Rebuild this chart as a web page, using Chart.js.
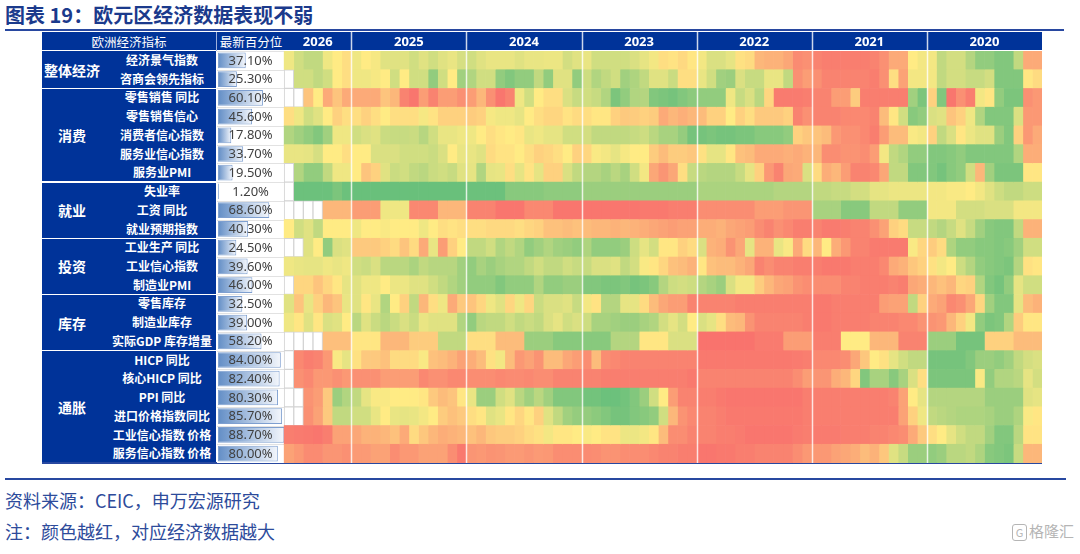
<!DOCTYPE html>
<html><head><meta charset="utf-8">
<script src="https://cdn.jsdelivr.net/npm/chart.js@4.4.1/dist/chart.umd.min.js"></script>
<style>
html,body{margin:0;padding:0;background:#fff;width:1080px;height:554px;overflow:hidden;font-family:"Noto Sans CJK SC","Noto Sans",sans-serif;}
.abs{position:absolute;}
#title{left:5px;top:1px;font-size:20px;font-weight:bold;color:#1b3a8c;white-space:nowrap;line-height:28px;}
#tline{left:5px;top:29px;width:1059px;height:2px;background:#2848a0;}
#head{left:42px;top:32px;width:1000px;height:19px;background:#003399;}
#hsep{left:42px;top:50px;width:1000px;height:1px;background:#ffffff;}
#left{left:42px;top:51px;width:174px;height:412px;background:#003399;}
.hl{color:#fff;font-size:12.5px;line-height:19px;text-align:center;white-space:nowrap;}
.grp{position:absolute;left:0;width:60px;display:flex;align-items:center;justify-content:center;color:#fff;font-weight:bold;font-size:14px;}
.ind{position:absolute;left:56px;width:128px;text-align:center;color:#fff;font-weight:bold;font-size:12px;white-space:nowrap;}
.gsep{position:absolute;left:0;width:174px;height:1.5px;background:#fff;}
#bline{left:42px;top:462px;width:1000px;height:2px;background:#2848a0;}
#fline{left:5px;top:478px;width:1061px;height:2px;background:#2848a0;}
.foot{left:5px;font-size:18px;color:#2d4b9b;white-space:nowrap;}
#wm{left:1012px;top:520px;font-size:15px;color:#b5b5b5;white-space:nowrap;}
#wm span{display:inline-block;border:1.5px solid #b5b5b5;border-radius:3px;font-size:11px;width:13px;height:15px;line-height:15px;text-align:center;margin-right:2px;vertical-align:middle;}
canvas{position:absolute;left:42px;top:32px;}
</style></head>
<body>
<div id="title" class="abs">图表 19：欧元区经济数据表现不弱</div>
<div id="tline" class="abs"></div>
<div id="head" class="abs"></div>
<div id="hsep" class="abs"></div>
<div class="abs hl" style="left:42px;top:32px;width:174px;">欧洲经济指标</div>
<div class="abs" style="left:215.5px;top:32px;width:1px;height:19px;background:#9fb0dc;"></div>
<div class="abs hl" style="left:217px;top:32px;width:68px;">最新百分位</div>
<div id="left" class="abs"></div>
<div id="bline" class="abs"></div>
<canvas id="c" width="1000" height="431" style="width:1000px;height:431px;"></canvas>
<div id="fline" class="abs"></div>
<div class="abs foot" style="top:487px;">资料来源：CEIC，申万宏源研究</div>
<div class="abs foot" style="top:518px;">注：颜色越红，对应经济数据越大</div>
<div id="wm" class="abs"><span>G</span>格隆汇</div>
<script>
// ---------------- DATA ----------------
const groupNames = ['整体经济','消费','就业','投资','库存','通胀'];
const groupSizes = [2,5,3,3,3,6];
const rowNames = ['经济景气指数','咨商会领先指标','零售销售 同比','零售销售信心','消费者信心指数','服务业信心指数','服务业PMI',
  '失业率','工资 同比','就业预期指数','工业生产 同比','工业信心指数','制造业PMI','零售库存','制造业库存','实际GDP 库存增量',
  'HICP 同比','核心HICP 同比','PPI 同比','进口价格指数同比','工业信心指数 价格','服务信心指数 价格'];
const latestPct = [37.1,25.3,60.1,45.6,17.8,33.7,19.5,1.2,68.6,40.3,24.5,39.6,46.0,32.5,39.0,58.2,84.0,82.4,80.3,85.7,88.7,80.0];
const years = ['2026','2025','2024','2023','2022','2021','2020'];
const monthsShown = [7,12,12,12,12,12,12];
// heat levels 0 (lowest, green) .. 10 (highest, red); newest month first; null = no data
const climate = [4.5,3.5,3,3,4.5,5,5.5,
 4.5,5,4.7,4,4,4,3.5,4,3.5,4,4.3,3.7,
 3.5,4,4.3,4.3,4.3,4,4.3,4.3,4.4,4.4,3.6,4,
 4.3,3.5,3.5,3.5,3.5,3.8,4.2,4.6,5.5,5.3,5.7,5.2,
 4.6,3.8,3.8,4.2,5.4,5.6,7,7.2,7.2,7.6,8.7,8.5,
 9,9.2,9.2,9.2,9.2,9.2,9,8.5,7.5,7.5,5,4.6,
 4.6,3,3.6,3.6,2.6,1.5,1.5,1,1,3,7.5,7.5];
const conference = [null,3.5,3.5,3,3.5,5,5.5,
 4.5,4.5,4.7,5,3.5,5,3.5,3.5,1.5,3.5,5,2,
 2.5,3.5,3.5,1.5,1,1.5,1.5,3,1.5,4,4,1.5,
 3.4,2.5,3,3.5,2,2.4,3,4,4,3.3,5.5,5.5,
 4.3,3.5,2,1.8,3.8,3.2,3.2,4.3,4.3,3,8.5,8,
 8.5,9,9,9,9,9,9.2,8.5,5.5,7.8,4.6,4.6,
 4.6,3,3.6,3.6,3.2,3.2,3.6,1,1,1,5.2,5.6];
const retailYoY = [null,null,6.5,5,7.5,6.5,7.5,
 7.5,7.5,7.5,6.5,7,9,9.5,8,9,8,8,8.5,
 8,7,8.5,9.5,9,4.5,3.5,5,5.5,5.5,3.8,3.2,
 3.5,3.2,2.5,0.8,1.5,2.5,2.6,1,0.8,0.6,1,1.3,
 1.5,1.5,1.5,4.5,3.2,3.8,2.8,5.8,9.3,9.3,9.3,9.2,
 9,9,8,8,6.2,9.2,9.2,9.2,9.2,9.2,2,0.8,
 6,1,9.5,8.5,9.2,4.6,5.2,1.5,0.8,0.8,8.5,8.2];
const retailConf = [5.5,4.5,3.5,4,5,6,5.5,
 5.5,6,5.5,5,5.5,5.5,5.5,4.7,5.3,6,6,6,
 6.2,6,4.7,4.5,4.5,4.2,5,5.5,5.8,5.8,5.3,5.6,
 5.5,5.2,5.2,6,6.3,6.2,6,6.2,7.5,7,7.3,7,
 6.8,6,6,5,6,5.5,6.3,6.3,6.3,6,9,8.5,
 9,9,9,8.8,8.8,8.8,9,6.8,5.2,3.5,1.2,1.5,
 3.8,4,6.5,6,4.5,2.5,1,1,1,3.8,8.2,8.2];
const consumerConf = [2.5,2,1.5,1,2,4.5,4.5,
 3.5,3.8,4,3.3,3.2,3.2,3.3,2.7,3.5,4.3,4.3,4.5,
 4.5,5,5.5,5.2,5,5.2,4.3,4.5,4.2,4.2,3.5,3.5,
 3.6,3,3,3,3,3.2,3.4,2.8,2.2,2.2,1.6,0.6,
 0.6,0.8,0.6,0.6,0.8,0.8,1.2,1.2,1.2,1.5,6,6.4,
 6.5,6.8,8.2,8.5,8.5,8.8,9.2,8,6.8,6.8,4.8,4.6,
 6,3,3.8,5.2,4.4,4,4,1.8,1,6,8.2,7.5];
const serviceConf = [4.3,4.3,4.2,3.7,5,5,5.5,
 5,5,3.8,3.8,3.8,3.5,3.5,3.5,3.3,3.8,5,4.3,
 4.3,4,5.6,5.3,5.3,5,5.5,6,5.8,5.5,5,6,
 5.8,4.8,4.6,4.2,4.7,5,5,6.2,6.8,6.2,6.2,6.4,
 5.4,4.2,4.2,5.2,6.6,6.8,7.5,7.5,7.5,7.3,7.5,7.2,
 7,8.6,8.6,8.4,8.4,8.6,8,4.6,3,2.5,1.5,1.5,
 1,1,1.2,1.5,1,1,1,1,1,2.5,7.4,7.4];
const servicePMI = [null,2.5,1.5,1.5,3,4.5,4.5,
 5,6.5,6,4,3.3,3.5,3,2.8,3.3,3.5,3.2,4,
 4.2,2.5,4.2,4.3,5.5,4.2,5.3,4.2,6,6,3.8,3,
 2.6,2.6,2.2,2.8,2.2,3.5,4.6,7.6,8.3,7.6,5.5,3.2,
 2.8,2.6,2.6,2.6,3.2,4.2,6,8.2,9,7.6,7.5,3.8,
 5.6,7.4,7,8,9,9,8.8,7.6,3,3,1,1,
 1,0.6,1.2,1.5,3.5,7,2,0.8,0.8,0.8,5.2,5.2];
const unemployment = [null,0.3,0.3,0.3,0.3,0.8,0.3,
 0.2,0.2,0.2,0.2,0.2,0.2,0.2,0.2,0.2,0.2,0.2,0.2,
 0.3,0.3,0.3,0.3,1.2,1.2,1.2,1.2,1.4,1.4,1.4,1.4,
 1.8,1.8,1.8,1.8,1.8,1.8,1.8,1.8,1.8,1.8,1.8,1.8,
 2.3,2.3,2.3,2.3,2.3,2.3,2.3,2.3,2.6,2.6,2.6,2.6,
 3,3,3.2,3.2,3.6,3.6,4.2,4.2,4.4,4.4,4.4,4.4,
 4.6,4.6,4.8,4.8,5,4.6,4,3.4,3,3,3.4,3.4];
const wagesYoY = [null,null,null,null,7,7,7,
 8,8,8,4.5,4.5,4.5,8.8,8.8,8.8,7,7,7,
 9,9,9,9.5,9.5,9.5,8.8,8.8,8.8,9.5,9.5,9.5,
 9.5,9.5,9.5,9.5,9.5,9.5,9.4,9.4,9.4,9.2,9.2,9.2,
 8.6,8.6,8.6,8.6,8.6,8.6,8,8,8,8.3,8.3,8.3,
 2.2,2.2,2.2,1.2,1.2,1.2,3,3,3,1.5,1.5,1.5,
 4.6,4.6,4.6,3.6,3.6,3.6,3.8,3.8,3.8,4.6,4.6,4.6];
const employExp = [5,3.5,4,3,5,5,5,
 4.5,5,5,4.8,5,5,5,4.5,5,5.5,5.3,5.5,
 5.5,5.5,5.7,5.7,5.7,5.5,5.8,6,6.6,6.6,6.8,6.6,
 6.8,7,7,7.2,7,7.2,7.4,7.6,7.8,8,7.8,7.8,
 7.4,7.4,7.2,7.6,7.8,8,8.6,9,8.5,8.8,9.2,9.2,
 9,9.3,9.3,9.2,9,9,8.5,7.8,6,5.6,3.2,3.2,
 3,2.6,3.2,4,3.2,2,1.2,1,1,3,7.2,7.2];
const indProdYoY = [null,null,4,5,1.5,3.8,4,
 6.3,6.3,6.3,6,5.6,6.5,5.6,7.5,4.3,8,6,5,
 3,3,3.5,2.5,3,2.5,1.5,2,2.5,2,1.8,1.5,
 2.4,1.5,1.5,1.5,1.8,3.4,4.2,3.6,5.2,5.2,6,5.6,
 3.8,7.2,7.4,8.4,7.6,4.2,7.2,7.2,4.3,4.8,7.5,5.6,
 7,5,7.4,8.2,9,9,9.3,9.3,9.3,9.3,4.8,5.8,
 6.2,5.6,2.4,1.5,1.5,1.2,1.2,1,1.2,2,3.5,3.5];
const indConf = [4.5,4.3,4.2,4.2,4.5,4.3,4.5,
 3.5,3.3,3.8,2.8,2.8,2.8,2.3,3,2.7,2.7,2.7,2,
 1.5,2.2,1.8,2.2,2.5,2.5,3,3.5,3,3,3.5,3.2,
 3.2,3.8,3.8,4,3,3.6,4.8,5.2,5.8,6.6,6.8,7.2,
 5.2,6.6,6.8,6.8,7.2,7.6,9,8.6,9,9,9.2,9.2,
 9.2,9.4,9.4,9.4,9.2,9.2,9.2,8.8,7.5,7.2,6.4,6,
 5.4,4.6,5,3.4,2.6,1.5,1.2,1,0.8,2.6,5.4,5.2];
const mfgPMI = [null,5.8,5.8,6.5,5.8,5.2,4.2,
 4,4.5,4.5,5,4.4,4.4,4,4,3.5,3,2.5,2,
 1.5,1.5,1.5,1,1.5,1.5,1.5,2.5,1.5,1.5,1.8,1.8,
 1,1,0.8,0.8,1,0.6,0.8,1.2,2.6,3.4,3.6,3.4,
 2.6,2.2,1.8,3.8,4.6,4.6,6.2,7,7.6,7.8,8.4,8.6,
 8.6,8.6,8.6,9,9,9.2,9.2,9.2,9,9.2,7.6,7.4,
 7,6.6,7,5.8,6,2.5,1,0.6,1.5,4.2,3.5,3.5];
const retailInv = [4,6.5,4.3,6,7,6.5,4.3,
 4,5.2,4.3,2.5,5,6,3,7,5.5,4.5,7.5,6.3,
 6.5,5.8,4.5,4,5.8,4.5,5.8,3.3,3.8,3.8,4,3.2,
 4.6,5.3,2.6,2.6,4.2,4.2,5.6,6.8,7.6,8,8,9,
 9,9,9,9,9.2,9.2,9.2,9.2,9.2,9.2,9.2,9.2,
 9.4,9.4,9.2,9.2,9.2,9.2,9.2,8,7.8,7.8,3,6,
 7.5,7.8,8.8,8.5,7.6,5.8,2,1,1,4.2,6.8,7.2];
const mfgInv = [4.5,5.2,4,5.2,3.8,4,5,
 2.8,4,3.3,2.8,3.3,3.8,3.3,4.3,4,4,4,2.5,
 1.5,2.8,3,3,3.5,3,3.3,3,3.8,4.2,3.5,3.8,
 3.4,2.2,2.2,2,1.8,1.8,2.2,2.5,3.6,4.2,3.6,5,
 3.8,4.2,5.5,6.8,7,8.4,9,9,9,9,9,9.2,
 9.4,9.4,9.2,9.2,9.2,9.2,9,9,9,8.8,8.8,8.4,
 8.4,8.2,7,6,4.6,1.5,0.8,1,2.5,6.2,5.2,5.2];
const gdpInventory = [null,null,null,null,6.7,6.7,6.7,
 5.2,5.2,5.2,7,7,7,6.2,6.2,6.2,3,3,3,
 5.5,5.5,5.5,6.8,6.8,6.8,1.8,1.8,1.8,1.2,1.2,1.2,
 1.2,1.2,1.2,2.6,2.6,2.6,5.2,5.2,5.2,3.8,3.8,3.8,
 9.6,9.6,9.6,9.6,9.6,9.6,9.3,9.3,9.3,8,8,8,
 9.2,9.2,9.2,5,5,5,7,7,7,9,9,9,
 1.8,1.8,1.8,0.6,0.6,0.6,6,6,6,6.8,6.8,6.8];
const hicpYoY = [null,8.8,9.2,9,8.2,4.8,4.2,
 5.4,6.3,6.3,6.6,5.6,5.6,5.6,4.8,6.6,6.8,7.2,7.8,
 7.4,6.8,5.4,4.6,6.8,8.2,7.8,8.4,6.8,6.8,7.6,8,
 8.6,6.8,8.6,8.8,9,9,9,9,9,9,9,9,
 9.4,9.4,9.4,9.4,9.4,9.4,9.4,9.4,9.4,9.4,9.3,9.2,
 8.8,8.8,8.8,8.6,7.6,6.4,5,5.4,4.2,3.5,3,3,
 0.6,0.6,0.6,0.6,1,1.8,1.8,1.5,2,3,3.6,3.8];
const coreHicpYoY = [null,8.5,8.8,8.2,8.2,8.5,8.2,
 8.5,8.5,8.5,8,8,8,8,8.8,8.5,8.5,8.8,8.8,
 8.6,8.6,8.6,8.8,8.7,8.7,8.8,8.6,8.6,9,9,9,
 9,9,9.2,9.2,9.2,9.2,9.2,9.2,9.2,9.2,9.2,9.4,
 9,9,9,9,9,9,9,9,9,9,8.6,8,
 8.3,8.3,7.4,7,5.8,1,2.2,2.2,1.2,2.2,3.8,5.5,
 0.8,0.8,0.8,0.8,0.8,4.8,1.5,2.5,2.5,2.8,4.2,3.6];
const ppiYoY = [null,null,8.4,8,6.3,1.8,2.5,
 3,4.2,4.8,4.8,5,5,5,5.2,6.3,6.8,6.5,5.2,
 4.3,1.8,1.8,3.5,4,2.8,2,2.8,2,1,1,1,
 0.5,0.5,0.3,0.3,0.5,1,1.8,3.5,5,8,9,9,
 9.2,9.2,9.4,9.5,9.5,9.5,9.5,9.5,9.5,9.5,9.5,9.2,
 9.2,9.2,9.2,9.2,9.2,9.2,9.2,9.2,9,7.8,5,4.2,
 2.6,2.6,2.6,2.6,2.6,2.6,1.8,1.8,1.8,1.8,4,4.2];
const importPriceYoY = [null,null,8.5,7.8,6.3,3,3,
 3.5,3.5,4.3,5,4.3,4.2,4.3,4.6,5,6.2,6.6,6.3,
 5.5,5.2,4,4.3,5.2,5.8,5.2,6,4,3,2,1.6,
 1.6,1.3,1,0.6,0.6,1,1.2,1.5,3.5,7,8.4,8.8,
 9,9,9.2,9.4,9.4,9.4,9.4,9.4,9.4,9.4,9.4,9.2,
 9.2,9.2,9.2,9.2,9.2,9.2,9.2,9.2,9.2,7.8,6,4.5,
 3,2.8,2.6,2.4,2.4,2.4,2.2,1.8,1.8,2.4,4.8,5.2];
const indPriceExp = [9.2,9.3,9.4,9.5,9.2,7.8,7.8,
 7.6,7.2,7.2,7,6.6,7.5,5.6,6.4,7,7.4,7.2,7,
 6.6,7,6.4,6.2,6.2,6,5.6,5.4,4.6,5.2,5.2,5,
 4.8,5,5.3,5.3,4.4,4.4,4.6,5.2,6.8,8.6,8.6,9,
 9,9,9.2,9.2,9.3,9.5,9.5,9.5,9.5,9.5,9.3,9.2,
 9.3,9.3,9.3,9.2,9.2,9.2,9,9,8.8,8.6,7.5,6.3,
 5.5,5,4.2,3.5,3,3,2,1,1,2.8,5.3,5.3];
const svcPriceExp = [7.8,8.2,8.7,8.7,8.3,8.3,8.5,
 8.1,8.1,7.8,7.8,8.6,8.2,8.2,7.8,7.8,7.8,8.6,9.4,
 8.3,8.2,8.4,8.3,8.1,8.1,8.3,8.1,8.2,8.6,8.6,8.6,
 8.7,8.6,8.4,8.4,8.6,8.6,8.6,8.8,9,9,9.2,9.2,
 9.5,9.5,9.4,9.4,9.2,9.2,9,9,9,9,8.6,8.2,
 8.2,8.2,7.8,7.6,7.4,6.8,7.2,6.4,4,3.2,1.8,1.8,
 1.5,1.8,2.8,2.8,3,2.4,1.2,1,0.8,3.2,7,7];

const heatRows = [climate,conference,retailYoY,retailConf,consumerConf,serviceConf,servicePMI,
  unemployment,wagesYoY,employExp,indProdYoY,indConf,mfgPMI,retailInv,mfgInv,gdpInventory,
  hicpYoY,coreHicpYoY,ppiYoY,importPriceYoY,indPriceExp,svcPriceExp];

// ---------------- LAYOUT / STYLE ----------------
const PCT_COL = [-7, 0];          // x-range (in month units) of the percentile column
const PCT_BAR_START = -6.9, PCT_BAR_SPAN = 7.8;
const nCols = monthsShown.reduce((a,b)=>a+b,0);

function heatColor(v){
  const lo=[99,190,123], mid=[255,235,132], hi=[248,105,107];
  let a,b,t;
  if(v<=5){a=lo;b=mid;t=v/5;} else {a=mid;b=hi;t=(v-5)/5;}
  t=Math.max(0,Math.min(1,t));
  return 'rgb('+a.map((c,i)=>Math.round(c+(b[i]-c)*t)).join(',')+')';
}
const isEmpty = v => v===null || v===undefined;

// left panel
const left = document.getElementById('left');
const rowH = 412/rowNames.length;
let start = 0;
groupNames.forEach((g,gi)=>{
  const d=document.createElement('div'); d.className='grp';
  d.style.top=(start*rowH)+'px'; d.style.height=(groupSizes[gi]*rowH)+'px'; d.textContent=g;
  left.appendChild(d);
  if(gi>0){const s=document.createElement('div'); s.className='gsep'; s.style.top=(start*rowH-0.75)+'px'; left.appendChild(s);}
  start+=groupSizes[gi];
});
rowNames.forEach((n,i)=>{
  const d=document.createElement('div'); d.className='ind';
  d.style.top=(i*rowH)+'px'; d.style.height=rowH+'px'; d.style.lineHeight=rowH+'px'; d.textContent=n;
  left.appendChild(d);
});

// datasets
const datasets=[];
for(let j=0;j<nCols;j++){
  datasets.push({
    data: rowNames.map(()=>[j,j+1]),
    backgroundColor: heatRows.map(r=>isEmpty(r[j])?'#ffffff':heatColor(r[j])),
    borderColor: heatRows.map(r=>isEmpty(r[j])?'#d4d4d4':'rgba(0,0,0,0)'),
    borderWidth: heatRows.map(r=>isEmpty(r[j])?1:0),
    borderSkipped:false, grouped:false, barPercentage:1, categoryPercentage:1
  });
}
datasets.push({
  data: latestPct.map(p=>[PCT_BAR_START, PCT_BAR_START+p/100*PCT_BAR_SPAN]),
  backgroundColor: (ctx)=>{
    const chart=ctx.chart;
    if(!chart.chartArea || ctx.type!=='data') return '#638EC6';
    const xs=chart.scales.x, raw=ctx.raw;
    const x0=xs.getPixelForValue(raw[0]), x1=xs.getPixelForValue(raw[1]);
    if(!isFinite(x0)||!isFinite(x1)||x1-x0<1) return '#638EC6';
    const g=chart.ctx.createLinearGradient(x0,0,x1,0);
    g.addColorStop(0,'#638EC6'); g.addColorStop(1,'#f4f7fc');
    return g;
  },
  borderColor:'#7e9fd0', borderWidth:1, borderSkipped:false,
  grouped:false, barPercentage:0.84, categoryPercentage:1, inflateAmount:0
});

const overlay={
  id:'overlay',
  beforeDatasetsDraw(chart){
    const {ctx,chartArea:a,scales:{x}}=chart;
    const x0=x.getPixelForValue(PCT_COL[0]), x1=x.getPixelForValue(PCT_COL[1]);
    ctx.save();
    ctx.fillStyle='#fff'; ctx.fillRect(x0,a.top,x1-x0,a.bottom-a.top);
    ctx.strokeStyle='#e2e2e2'; ctx.lineWidth=1;
    const rh=(a.bottom-a.top)/rowNames.length;
    for(let i=0;i<=rowNames.length;i++){
      const yy=Math.round(a.top+i*rh)+0.5;
      ctx.beginPath(); ctx.moveTo(x0,yy); ctx.lineTo(x1,yy); ctx.stroke();
    }
    ctx.restore();
  },
  afterDatasetsDraw(chart){
    const {ctx,chartArea:a,scales:{x,y}}=chart;
    ctx.save();
    // percentile labels
    ctx.font='13px "Noto Sans","DejaVu Sans",sans-serif';
    ctx.fillStyle='#404040'; ctx.textAlign='center'; ctx.textBaseline='middle';
    const cx=x.getPixelForValue((PCT_COL[0]+PCT_COL[1])/2);
    latestPct.forEach((p,i)=>{ ctx.fillText(p.toFixed(2)+'%', cx, y.getPixelForValue(i)+0.5); });
    // year separators and labels
    let c=0;
    ctx.font='bold 13px "Noto Sans","DejaVu Sans",sans-serif';
    years.forEach((yr,k)=>{
      const s=c, e=c+monthsShown[k];
      ctx.fillStyle='#ffffff';
      ctx.fillText(yr, x.getPixelForValue((s+e)/2), a.top/2+0.5);
      if(k>0){
        const px=Math.round(x.getPixelForValue(s))+0.5;
        ctx.strokeStyle='rgba(255,255,255,0.8)'; ctx.lineWidth=1.5;
        ctx.beginPath(); ctx.moveTo(px,0); ctx.lineTo(px,a.bottom); ctx.stroke();
      }
      c=e;
    });
    ctx.restore();
  }
};

new Chart(document.getElementById('c'),{
  type:'bar',
  data:{labels:rowNames, datasets},
  options:{
    indexAxis:'y', responsive:false, animation:false, devicePixelRatio:1,
    layout:{padding:{left:175,top:19,right:0,bottom:0}},
    scales:{
      x:{type:'linear',min:PCT_COL[0],max:nCols,display:false},
      y:{type:'category',display:false}
    },
    plugins:{legend:{display:false},tooltip:{enabled:false}},
    events:[]
  },
  plugins:[overlay]
});
</script>
</body></html>
